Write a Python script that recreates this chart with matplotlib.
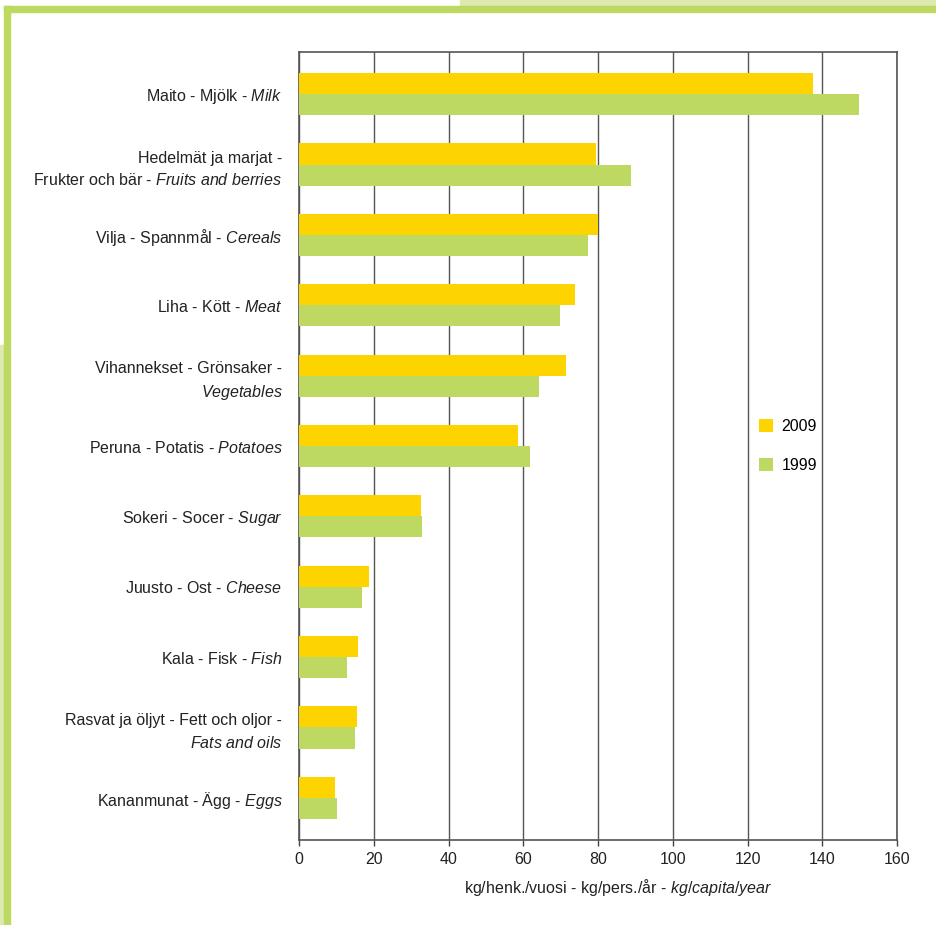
import numpy as np
import matplotlib
matplotlib.use('Agg')
import matplotlib.pyplot as plt
from matplotlib.patches import Rectangle
from matplotlib import font_manager

names = {f.name for f in font_manager.fontManager.ttflist}
fam = 'Liberation Sans Narrow' if 'Liberation Sans Narrow' in names else 'Liberation Sans'
plt.rcParams['font.family'] = [fam, 'DejaVu Sans']
plt.rcParams['mathtext.fontset'] = 'custom'
plt.rcParams['mathtext.rm'] = fam
plt.rcParams['mathtext.it'] = fam + ':italic'

categories = [
    'Maito - Mjölk - $\\it{Milk}$',
    'Hedelmät ja marjat -\nFrukter och bär - $\\it{Fruits\\ and\\ berries}$',
    'Vilja - Spannmål - $\\it{Cereals}$',
    'Liha - Kött - $\\it{Meat}$',
    'Vihannekset - Grönsaker -\n$\\it{Vegetables}$',
    'Peruna - Potatis - $\\it{Potatoes}$',
    'Sokeri - Socer - $\\it{Sugar}$',
    'Juusto - Ost - $\\it{Cheese}$',
    'Kala - Fisk - $\\it{Fish}$',
    'Rasvat ja öljyt - Fett och oljor -\n$\\it{Fats\\ and\\ oils}$',
    'Kananmunat - Ägg - $\\it{Eggs}$',
]
v2009 = [137.4, 79.5, 80.0, 73.8, 71.4, 58.6, 32.6, 18.7, 15.7, 15.5, 9.6]
v1999 = [149.7, 88.7, 77.3, 69.8, 64.2, 61.8, 32.9, 16.8, 12.8, 14.9, 10.2]
xticks = [0, 20, 40, 60, 80, 100, 120, 140, 160]

gold = '#FDD400'
green = '#BED962'
light = '#DCEAB0'
fs = 11.5

fig = plt.figure(figsize=(9.36, 9.25), dpi=100)

# green frame decoration
fig.patches.append(Rectangle((460 / 936, 1 - 6 / 925), 1, 6 / 925, transform=fig.transFigure, color=light, zorder=0))
fig.patches.append(Rectangle((0, 0), 4 / 936, 1 - 345 / 925, transform=fig.transFigure, color=light, zorder=0))
fig.patches.append(Rectangle((4 / 936, 1 - 12 / 925), 1, 6 / 925, transform=fig.transFigure, color=green, zorder=1))
fig.patches.append(Rectangle((4 / 936, 0), 6 / 936, 1 - 6 / 925, transform=fig.transFigure, color=green, zorder=1))

ax = fig.add_axes([299 / 936, 1 - 840 / 925, 598 / 936, 788 / 925])
y = np.arange(len(categories))
h = 0.3
ax.barh(y - h / 2, v2009, height=h, color=gold, label='2009', zorder=3)
ax.barh(y + h / 2, v1999, height=h, color=green, label='1999', zorder=3)

ax.set_xlim(0, 160)
ax.set_ylim(10.6, -0.6)
ax.set_xticks(xticks)
ax.set_yticks(y)
ax.set_yticklabels(categories, fontsize=fs, color='#222222', linespacing=1.5)
ax.tick_params(axis='y', length=0, pad=12)
ax.tick_params(axis='x', length=4, width=1, color='#444444', labelsize=fs, labelcolor='#222222', pad=5)
ax.grid(axis='x', color='#555555', linewidth=1, zorder=1)
for s in ax.spines.values():
    s.set_color('#555555')
    s.set_linewidth(1.2)
ax.set_xlabel('kg/henk./vuosi - kg/pers./år - $\\it{kg/capita/year}$', fontsize=fs, color='#222222')
ax.xaxis.set_label_coords(0.533, -0.047)

ax.legend(loc='center', bbox_to_anchor=(788 / 936, 1 - 446 / 925), bbox_transform=fig.transFigure,
          frameon=False, fontsize=fs, handlelength=0.85, handleheight=0.85, labelspacing=1.5,
          handletextpad=0.55, borderpad=0)

fig.savefig('out.png', dpi=100)
